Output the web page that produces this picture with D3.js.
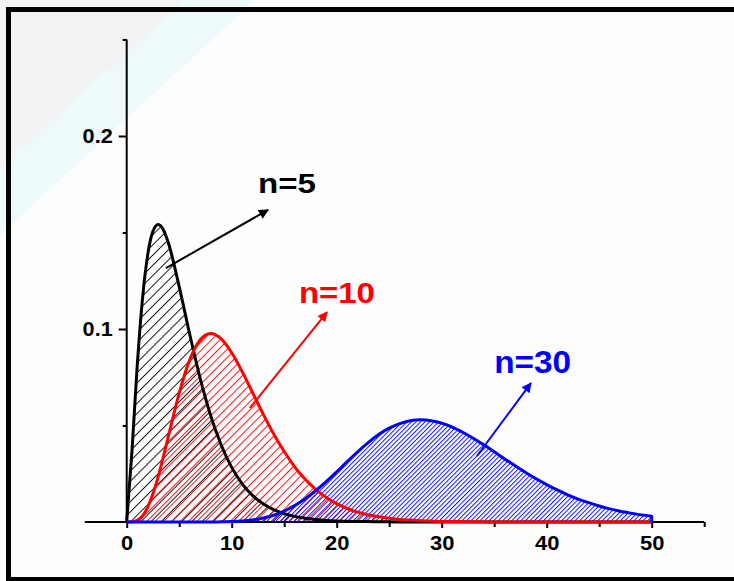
<!DOCTYPE html>
<html><head><meta charset="utf-8">
<script src="https://cdn.jsdelivr.net/npm/d3@7/dist/d3.min.js"></script>
<style>html,body{margin:0;padding:0;background:#fdfdfd;overflow:hidden}svg{display:block}</style>
</head><body>
<svg id="chart" width="734" height="581"></svg>
<script>
// ---- data ----
const xGrid = [0,0.5,1,1.5,2,2.5,3,3.5,4,5,6,7,8,9,10,11,12,13,14,15,16,17,18,19,20,21,22,23,24,25,26,27,28,29,30,31,32,33,34,35,36,37,38,39,40,41,42,43,44,45,46,47,48,49,50];
const dens5  = [0,0.0366,0.0807,0.1154,0.1384,0.1506,0.1542,0.1513,0.1440,0.1220,0.0973,0.0744,0.0551,0.0399,0.0283,0.0198,0.0137,0.0094,0.0064,0.0043,0.0029,0.0019,0.0013,0.0008,0.0005,0.0004,0.0002,0.0002,0.0001,0.0001,0,0,0,0,0,0,0,0,0,0,0,0,0,0,0,0,0,0,0,0,0,0,0,0,0];
const dens10 = [0,0.0001,0.0008,0.0031,0.0077,0.0146,0.0235,0.0340,0.0451,0.0668,0.0840,0.0944,0.0977,0.0949,0.0877,0.0779,0.0669,0.0559,0.0456,0.0365,0.0286,0.0221,0.0169,0.0127,0.0095,0.0070,0.0051,0.0037,0.0027,0.0019,0.0013,0.0010,0.0007,0.0005,0.0003,0.0002,0.0002,0.0001,0.0001,0,0,0,0,0,0,0,0,0,0,0,0,0,0,0,0];
const dens30 = [0,0,0,0,0,0,0,0,0,0,0,0,0,0.0001,0.0002,0.0005,0.0011,0.0021,0.0035,0.0057,0.0085,0.0120,0.0162,0.0209,0.0260,0.0313,0.0364,0.0411,0.0453,0.0486,0.0510,0.0525,0.0530,0.0525,0.0512,0.0492,0.0465,0.0434,0.0400,0.0364,0.0327,0.0292,0.0257,0.0224,0.0194,0.0166,0.0141,0.0119,0.0100,0.0083,0.0068,0.0056,0.0046,0.0037,0.0030];
const seriesNames = ["n=5","n=10","n=30"];
const seriesColors = ["#000000","#ff0000","#0000ff"];
const xMajorTicks = [0,10,20,30,40,50];
const xMinorTicks = [5,15,25,35,45,55];
const yMajorTicks = [0.1,0.2];
const yMinorTicks = [0.05,0.15,0.25];
// annotation anchors in data units: [tailX, tailY, tipX, tipY, labelX, labelY]
const annotations = [
  [3.74,0.1316,13.46,0.1617,12.5,0.1705],
  [11.74,0.0591,19.08,0.1088,16.4,0.1135],
  [33.36,0.0342,38.5,0.0720,35.0,0.0772]
];

// ---- layout ----
const svg = d3.select("#chart");
const x = d3.scaleLinear().domain([0,50]).range([126.7,651.7]);
const y = d3.scaleLinear().domain([0,0.25]).range([522,39.5]);

// background decoration
svg.append("rect").attr("width",734).attr("height",581).attr("fill","#fdfdfd");
svg.append("polygon").attr("points","0,0 255,0 0,235").attr("fill","#eef9fb");
svg.append("polygon").attr("points","0,0 185,0 0,168").attr("fill","#f3f3f3");

// patterns
const defs = svg.append("defs");
const hatch = [{id:"h0",sp:7.2},{id:"h1",sp:5.9},{id:"h2",sp:3.2}];
hatch.forEach((h,i)=>{
  const p = defs.append("pattern").attr("id",h.id).attr("patternUnits","userSpaceOnUse")
    .attr("width",h.sp).attr("height",h.sp).attr("patternTransform","rotate(45)");
  p.append("line").attr("x1",0.5).attr("y1",0).attr("x2",0.5).attr("y2",h.sp)
    .attr("stroke",seriesColors[i]).attr("stroke-width",0.9);
});
seriesColors.forEach((c,i)=>{
  const m = defs.append("marker").attr("id","ah"+i).attr("viewBox","0 0 10 10")
    .attr("refX",9).attr("refY",5).attr("markerWidth",6.5).attr("markerHeight",5)
    .attr("markerUnits","strokeWidth").attr("orient","auto");
  m.append("path").attr("d","M0,0 L10,5 L0,10 Z").attr("fill",c);
});

const FONT = "'Liberation Sans',Arial,sans-serif";
const charW = s => s.length * 12.2 - (s.includes(".") ? 6.5 : 0);

// axes
const gx = svg.append("g").attr("transform",`translate(0,${y(0)})`);
gx.append("line").attr("x1",x(-4)).attr("x2",x(55)).attr("stroke","#000").attr("stroke-width",2);
gx.call(g=>{
  const ga = g.append("g").call(d3.axisBottom(x).tickValues(xMajorTicks).tickSize(6).tickSizeOuter(0).tickFormat(d3.format("d")));
  ga.select(".domain").remove();
  ga.selectAll("line").attr("stroke","#000").attr("stroke-width",2);
  ga.selectAll("text").attr("y",13).attr("dy","0.71em")
    .attr("font-family",FONT).attr("font-weight","bold").attr("font-size",21).attr("fill","#000")
    .attr("textLength",function(){return charW(this.textContent);}).attr("lengthAdjust","spacingAndGlyphs");
  const gm = g.append("g").call(d3.axisBottom(x).tickValues(xMinorTicks).tickSize(5).tickSizeOuter(0).tickFormat(""));
  gm.select(".domain").remove();
  gm.selectAll("line").attr("stroke","#000").attr("stroke-width",2);
});

const gy = svg.append("g").attr("transform",`translate(${x(0)},0)`);
gy.append("line").attr("y1",y(0)).attr("y2",y(0.25)).attr("stroke","#000").attr("stroke-width",2);
gy.call(g=>{
  const ga = g.append("g").call(d3.axisLeft(y).tickValues(yMajorTicks).tickSize(8).tickSizeOuter(0).tickFormat(d3.format(".1f")));
  ga.select(".domain").remove();
  ga.selectAll("line").attr("stroke","#000").attr("stroke-width",2);
  ga.selectAll("text").attr("x",-14)
    .attr("font-family",FONT).attr("font-weight","bold").attr("font-size",21).attr("fill","#000")
    .attr("textLength",function(){return charW(this.textContent);}).attr("lengthAdjust","spacingAndGlyphs");
  const gm = g.append("g").call(d3.axisLeft(y).tickValues(yMinorTicks).tickSize(4).tickSizeOuter(0).tickFormat(""));
  gm.select(".domain").remove();
  gm.selectAll("line").attr("stroke","#000").attr("stroke-width",2);
});

// curves
const allDens = [dens5,dens10,dens30];
const area = d3.area().x(d=>x(d[0])).y0(y(0)).y1(d=>y(d[1])).curve(d3.curveMonotoneX);
const line = d3.line().x(d=>x(d[0])).y(d=>y(d[1])).curve(d3.curveMonotoneX);
allDens.forEach((dens,i)=>{
  const pts = xGrid.map((xv,k)=>[xv,dens[k]]);
  svg.append("path").attr("d",area(pts)).attr("fill",`url(#h${i})`).attr("stroke","none");
});
allDens.forEach((dens,i)=>{
  const pts = xGrid.map((xv,k)=>[xv,dens[k]]);
  const last = pts[pts.length-1];
  svg.append("path").attr("d",line(pts)+`L${x(last[0])},${y(0)}`)
    .attr("fill","none").attr("stroke",seriesColors[i]).attr("stroke-width",3).attr("stroke-linejoin","round");
});

// annotations
const labelWidths = [58,76,77];
const labelSizes = [27,29,31];
annotations.forEach((a,i)=>{
  svg.append("line").attr("x1",x(a[0])).attr("y1",y(a[1])).attr("x2",x(a[2])).attr("y2",y(a[3]))
    .attr("stroke",seriesColors[i]).attr("stroke-width",2).attr("marker-end",`url(#ah${i})`);
  svg.append("text").attr("x",x(a[4])).attr("y",y(a[5])).text(seriesNames[i])
    .attr("font-family",FONT).attr("font-weight","bold")
    .attr("font-size",labelSizes[i]).attr("fill",seriesColors[i])
    .attr("textLength",labelWidths[i]).attr("lengthAdjust","spacingAndGlyphs");
});

// frame
svg.append("rect").attr("x",8.5).attr("y",9.5).attr("width",800).attr("height",570)
  .attr("fill","none").attr("stroke","#000").attr("stroke-width",5);
</script>
</body></html>
